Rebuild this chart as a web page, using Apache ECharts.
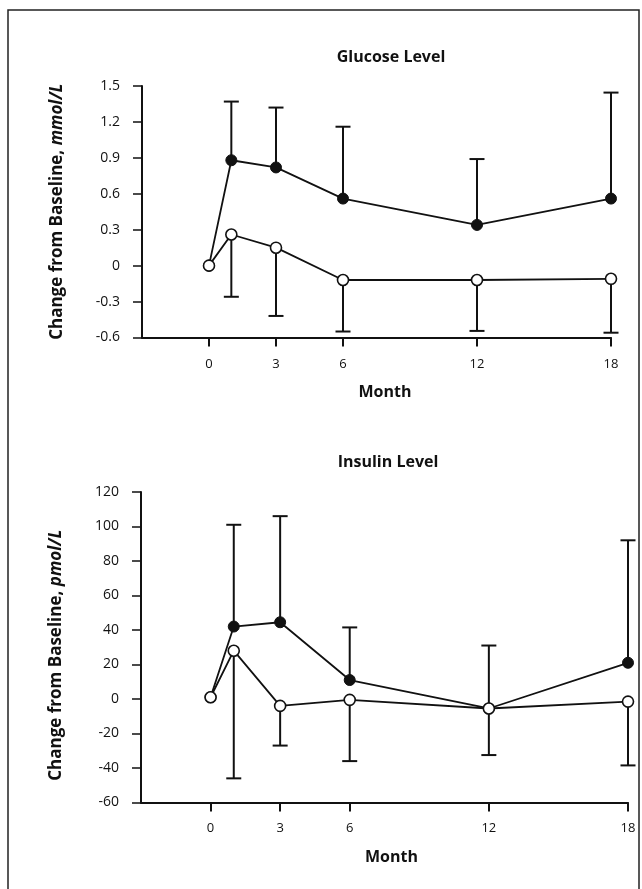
<!DOCTYPE html>
<html>
<head>
<meta charset="utf-8">
<script src="https://cdn.jsdelivr.net/npm/echarts@6/dist/echarts.min.js"></script>
<style>
html,body{margin:0;padding:0;background:#fff;}
#chart{width:642px;height:889px;}
</style>
</head>
<body>
<div id="chart"></div>
<script>
// ---- data ----
const months = [0, 1, 3, 6, 12, 18];
const monthTicks = [0, 3, 6, 12, 18];

const glucoseTitle = 'Glucose Level';
const glucoseFilled = [0, 0.88, 0.82, 0.56, 0.34, 0.56];
const glucoseFilledUpper = [null, 1.37, 1.32, 1.16, 0.89, 1.445];
const glucoseOpen = [0, 0.26, 0.15, -0.12, -0.12, -0.11];
const glucoseOpenLower = [null, -0.26, -0.42, -0.55, -0.545, -0.56];
const glucoseYTicks = [-0.6, 1.5, 0.3];

const insulinTitle = 'Insulin Level';
const insulinFilled = [1, 42, 44.5, 11, -5.5, 21];
const insulinFilledUpper = [null, 101, 106, 41.5, 31, 92];
const insulinOpen = [1, 28, -4, -0.5, -5.5, -1.5];
const insulinOpenLower = [null, -46, -27, -36, -32.5, -38.5];
const insulinYTicks = [-60, 120, 20];

// ---- build ----
const FONT = '"Open Sans", "Liberation Sans", sans-serif';
const INK = '#111';

function pts(vals) { return months.map((m, i) => [m, vals[i]]); }
function bars(vals, bounds) {
  const out = [];
  months.forEach((m, i) => { if (bounds[i] != null) out.push([m, vals[i], bounds[i]]); });
  return out;
}
function errRender(params, api) {
  const x = api.value(0), y = api.value(1), y2 = api.value(2);
  const p1 = api.coord([x, y]), p2 = api.coord([x, y2]);
  const hw = 7.5;
  return {
    type: 'group',
    children: [
      { type: 'line', shape: { x1: p1[0], y1: p1[1], x2: p2[0], y2: p2[1] }, style: { stroke: INK, lineWidth: 2 } },
      { type: 'line', shape: { x1: p2[0] - hw, y1: p2[1], x2: p2[0] + hw, y2: p2[1] }, style: { stroke: INK, lineWidth: 2 } }
    ]
  };
}

function xAxis(gridIndex, labelMargin, nameShift) {
  return {
    type: 'value', gridIndex, min: -3, max: 18, interval: 3,
    name: 'Month', nameLocation: 'middle', nameGap: 47,
    nameTextStyle: { fontFamily: FONT, fontSize: 16, fontWeight: 'bold', color: INK, padding: [0, 0, 0, nameShift] },
    axisLine: { show: true, onZero: false, lineStyle: { color: INK, width: 2 } },
    axisTick: { show: true, length: 9, customValues: monthTicks, lineStyle: { color: INK, width: 2 } },
    axisLabel: { customValues: monthTicks, margin: labelMargin, fontFamily: FONT, fontSize: 13, color: INK },
    splitLine: { show: false }
  };
}
function yAxis(gridIndex, ticks, unit, shift) {
  return {
    type: 'value', gridIndex, min: ticks[0], max: ticks[1], interval: ticks[2],
    name: 'Change from Baseline, {i|' + unit + '}', nameLocation: 'middle', nameGap: 76,
    nameTextStyle: {
      fontFamily: FONT, fontSize: 17, fontWeight: 'bold', color: INK, padding: [0, shift, 0, 0],
      rich: { i: { fontFamily: FONT, fontSize: 17, fontWeight: 'bold', fontStyle: 'italic', color: INK } }
    },
    axisLine: { show: true, onZero: false, lineStyle: { color: INK, width: 2 } },
    axisTick: { show: true, length: 9, lineStyle: { color: INK, width: 1.5 } },
    axisLabel: { margin: 22, fontFamily: FONT, fontSize: 14, color: INK },
    splitLine: { show: false }
  };
}
function lineSeries(idx, vals, filled) {
  return {
    type: 'line', xAxisIndex: idx, yAxisIndex: idx, data: pts(vals),
    symbol: 'circle', symbolSize: 11, z: filled ? 3 : 4,
    lineStyle: { color: INK, width: 1.8 },
    itemStyle: filled ? { color: INK, borderColor: INK, borderWidth: 1 } : { color: '#fff', borderColor: INK, borderWidth: 1.6 },
    emphasis: { disabled: true }
  };
}
function errSeries(idx, vals, bounds) {
  return {
    type: 'custom', xAxisIndex: idx, yAxisIndex: idx, z: 2,
    data: bars(vals, bounds), encode: { x: 0, y: [1, 2] }, renderItem: errRender
  };
}

const chart = echarts.init(document.getElementById('chart'), null, { renderer: 'canvas' });
chart.setOption({
  animation: false,
  backgroundColor: '#fff',
  title: [
    { text: glucoseTitle, left: 386, top: 44, textAlign: 'center', textStyle: { fontFamily: FONT, fontSize: 16, fontWeight: 'bold', color: INK } },
    { text: insulinTitle, left: 383, top: 449, textAlign: 'center', textStyle: { fontFamily: FONT, fontSize: 16, fontWeight: 'bold', color: INK } }
  ],
  grid: [
    { left: 142, top: 86, width: 469, height: 251.5 },
    { left: 141, top: 492, width: 487, height: 310.5 }
  ],
  xAxis: [xAxis(0, 20, 17), xAxis(1, 19, 14)],
  yAxis: [yAxis(0, glucoseYTicks, 'mmol/L', 0), yAxis(1, insulinYTicks, 'pmol/L', 16)],
  series: [
    errSeries(0, glucoseFilled, glucoseFilledUpper),
    errSeries(0, glucoseOpen, glucoseOpenLower),
    lineSeries(0, glucoseFilled, true),
    lineSeries(0, glucoseOpen, false),
    errSeries(1, insulinFilled, insulinFilledUpper),
    errSeries(1, insulinOpen, insulinOpenLower),
    lineSeries(1, insulinFilled, true),
    lineSeries(1, insulinOpen, false)
  ],
  graphic: [
    { type: 'polyline', silent: true, shape: { points: [[8, 889], [8, 10], [639, 10], [639, 889]] }, style: { stroke: '#222', lineWidth: 1.5, fill: null } }
  ]
});
</script>
</body>
</html>
